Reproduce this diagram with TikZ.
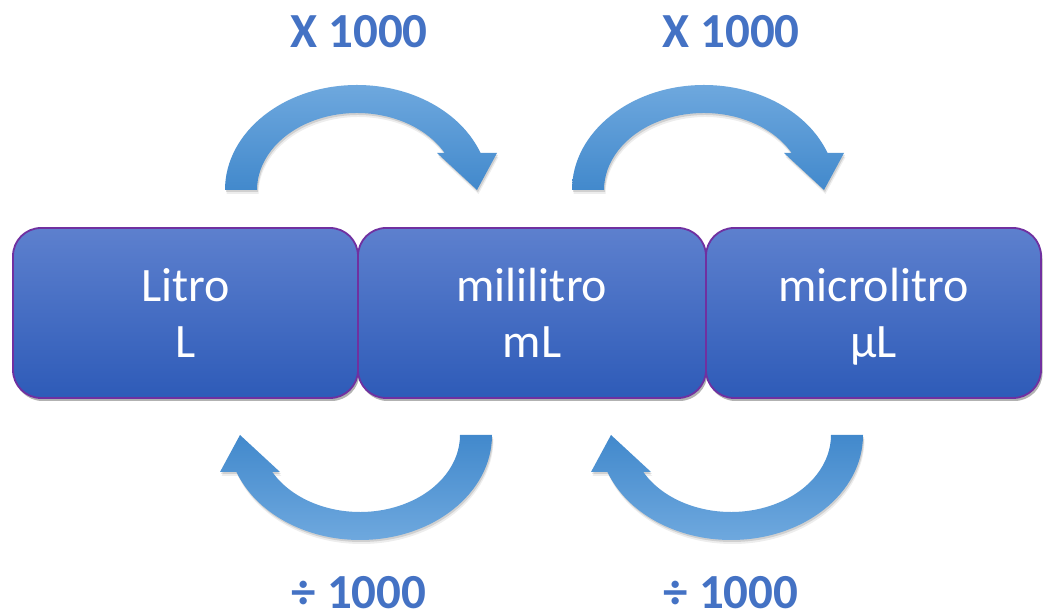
\documentclass[tikz,border=0pt]{standalone}
\usepackage{fontspec}
\setmainfont{Carlito}
\usetikzlibrary{shadows}
\definecolor{boxtop}{RGB}{93,128,206}
\definecolor{boxbot}{RGB}{46,91,184}
\definecolor{boxline}{RGB}{112,48,160}
\definecolor{arrlight}{RGB}{110,168,222}
\definecolor{arrdark}{RGB}{66,137,204}
\definecolor{labelblue}{RGB}{68,114,196}
\tikzset{
  unitbox/.style={rounded corners=28pt, draw=boxline, line width=1.8pt,
    top color=boxtop, bottom color=boxbot, text=white, align=center,
    inner sep=0pt, minimum height=170pt,
    font=\fontsize{48}{56}\selectfont,
    drop shadow={shadow xshift=1.5pt, shadow yshift=-3pt, opacity=0.3, fill=black}},
  factor/.style={text=labelblue, font=\fontsize{49}{58}\selectfont\bfseries, inner sep=0pt, anchor=base},
  uparrow/.pic={
    \foreach \dx/\dy/\op in {1/-2/0.12, 1.5/-4/0.07}{
      \fill[black, opacity=\op, shift={(\dx,\dy)}]
        (-132,0) arc[start angle=180, end angle=20.63, x radius=132, y radius=105]
        -- (140,37) -- (120,0) -- (80,37) -- (87.7,37)
        arc[start angle=28.72, end angle=180, x radius=100, y radius=77] -- cycle;
    }
    \shade[top color=arrlight, bottom color=arrdark]
      (-132,0) arc[start angle=180, end angle=20.63, x radius=132, y radius=105]
      -- (140,37) -- (120,0) -- (80,37) -- (87.7,37)
      arc[start angle=28.72, end angle=180, x radius=100, y radius=77] -- cycle;
  },
  downarrow/.pic={
    \foreach \dx/\dy/\op in {1/-2/0.12, 1.5/-4/0.07}{
      \fill[black, opacity=\op, shift={(\dx,\dy)}]
        (132,0) arc[start angle=0, end angle=-159.37, x radius=132, y radius=105]
        -- (-140,-37) -- (-120,0) -- (-80,-37) -- (-87.7,-37)
        arc[start angle=-151.28, end angle=0, x radius=100, y radius=77] -- cycle;
    }
    \shade[top color=arrdark, bottom color=arrlight]
      (132,0) arc[start angle=0, end angle=-159.37, x radius=132, y radius=105]
      -- (-140,-37) -- (-120,0) -- (-80,-37) -- (-87.7,-37)
      arc[start angle=-151.28, end angle=0, x radius=100, y radius=77] -- cycle;
  }
}
\begin{document}
\begin{tikzpicture}[x=1pt, y=1pt]
\useasboundingbox (0,0) rectangle (1043,612);
\fill[white] (0,0) rectangle (1043,612);

% unit boxes
\node[unitbox, minimum width=345pt] (litro) at (185.5,299) {Litro\\L};
\node[unitbox, minimum width=348pt] (mili) at (532,299) {mililitro\\mL};
\node[unitbox, minimum width=335pt] (micro) at (873.5,299) {microlitro\\\smash{µ}L};

% curved arrows
\pic at (357,422) {uparrow};
\pic at (704,422) {uparrow};
\pic at (360,177) {downarrow};
\pic at (731,177) {downarrow};

% factor labels
\node[factor] (m1) at (359,564) {X 1000};
\node[factor] (m2) at (731,564) {X 1000};
\node[factor] (d1) at (359,3.5) {÷ 1000};
\node[factor] (d2) at (731,3.5) {÷ 1000};
\end{tikzpicture}
\end{document}
